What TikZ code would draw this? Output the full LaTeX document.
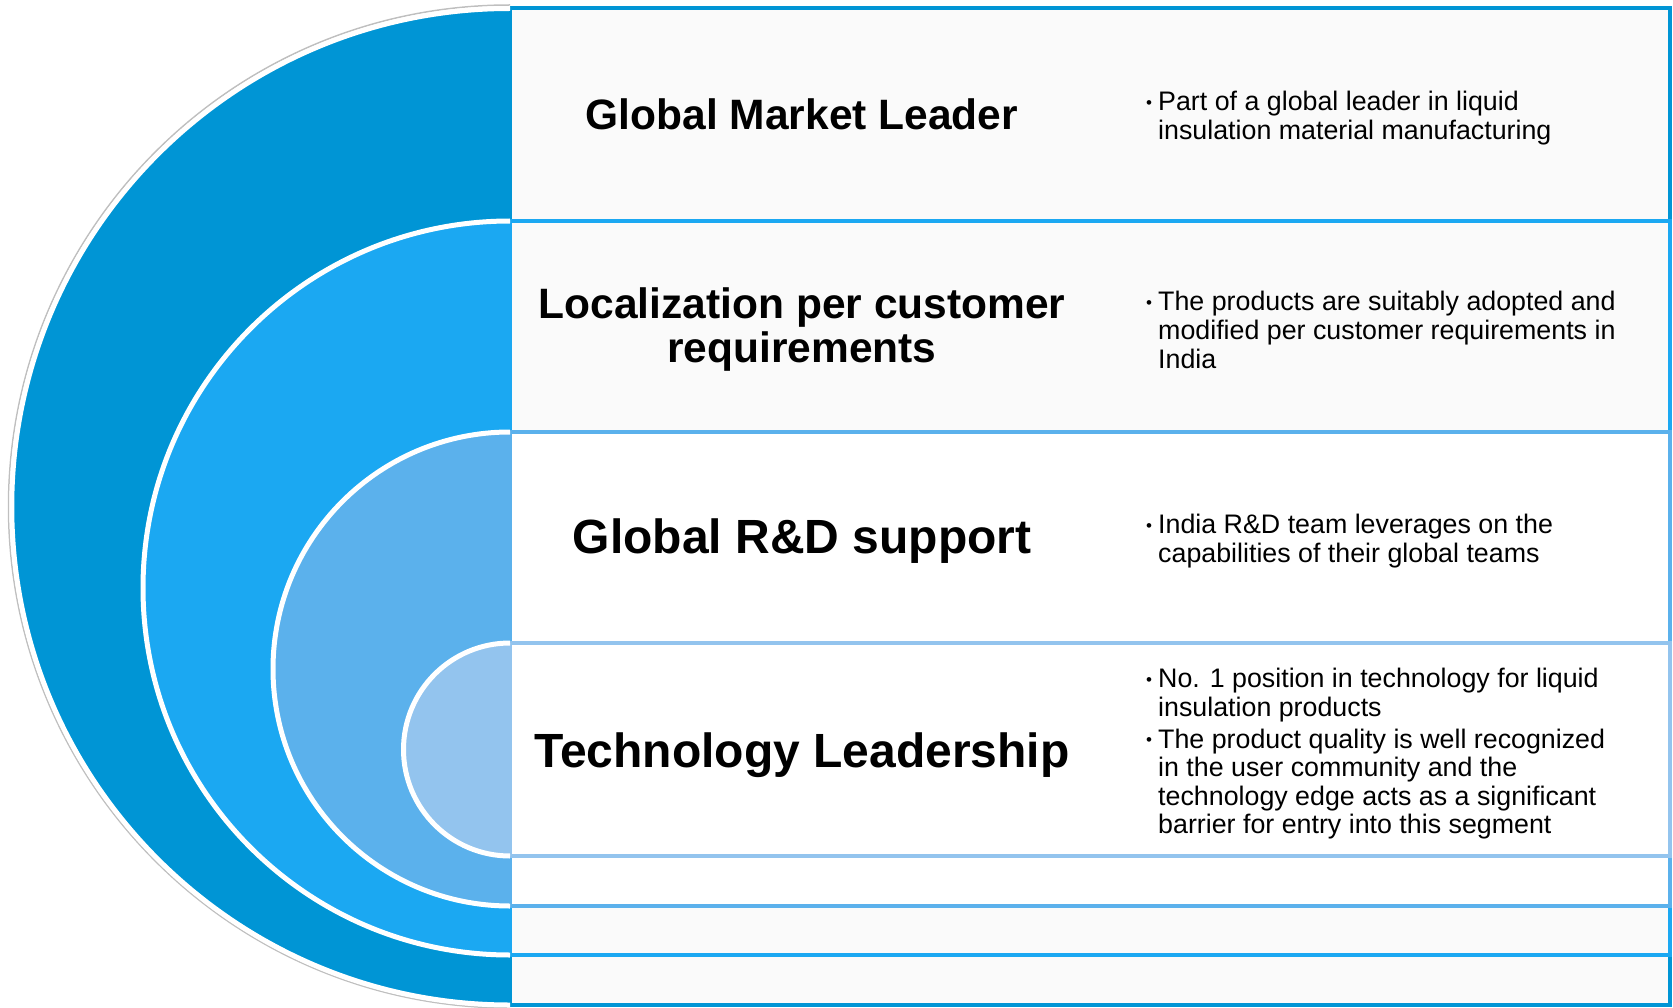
\documentclass[tikz,border=0pt]{standalone}
\usepackage{fontspec}
\setmainfont{Liberation Sans}
\definecolor{cA}{HTML}{0095D5}
\definecolor{cB}{HTML}{1BA8F2}
\definecolor{cC}{HTML}{5BB1EC}
\definecolor{cD}{HTML}{93C4EE}
\definecolor{fA}{HTML}{FAFAFA}
\newcommand{\bul}{\makebox[12pt][l]{\fontsize{17}{17}\selectfont\raisebox{2.5pt}{•}}}
\newcommand{\ind}{\hspace*{12pt}}
\begin{document}
\begin{tikzpicture}[x=1pt,y=-1pt,
  title/.style={font=\fontsize{42.5}{44}\selectfont\bfseries, align=center, inner sep=0},
  bigtitle/.style={font=\fontsize{48}{50}\selectfont\bfseries, align=center, inner sep=0},
  desc/.style={font=\fontsize{26.8}{28.6}\selectfont, align=left, anchor=west, inner sep=0}]
\useasboundingbox (0,0) rectangle (1673,1008);
% faint shadow of the outer half disk
\draw[black!25, line width=1.5] (510,5) arc[start angle=-90, end angle=-270, radius=501.5];
\foreach \t/\b/\c/\f in {8.5/1005/cA/fA, 221/955/cB/fA, 432/906/cC/white, 643/856/cD/white} {
  \pgfmathsetmacro\r{(\b-\t)/2}
  \draw[draw=\c, fill=\f, line width=4] (510,\t) rectangle (1670,\b);
  \fill[\c] (510,\t) arc[start angle=-90, end angle=-270, radius=\r] -- cycle;
  \draw[white, line width=5] (510,\t) arc[start angle=-90, end angle=-270, radius=\r];
}
\node[title] (t1) at (802,114) {Global Market Leader};
\node[title] (t2) at (802,330) {Localization per customer\\requirements};
\node[bigtitle] (t3) at (802,541) {Global R\&D support};
\node[bigtitle] (t4) at (802,755) {Technology Leadership};
\node[desc] (d1) at (1146,118) {\bul Part of a global leader in liquid\\\ind insulation material manufacturing};
\node[desc] (d2) at (1146,330) {\bul The products are suitably adopted and\\\ind modified per customer requirements in\\\ind India};
\node[desc] (d3) at (1146,541) {\bul India R\&D team leverages on the\\\ind capabilities of their global teams};
\node[desc] (d4) at (1146,754) {\bul No. 1 position in technology for liquid\\\ind insulation products\\[3pt]\bul The product quality is well recognized\\\ind in the user community and the\\\ind technology edge acts as a significant\\\ind barrier for entry into this segment};
\end{tikzpicture}
\end{document}
